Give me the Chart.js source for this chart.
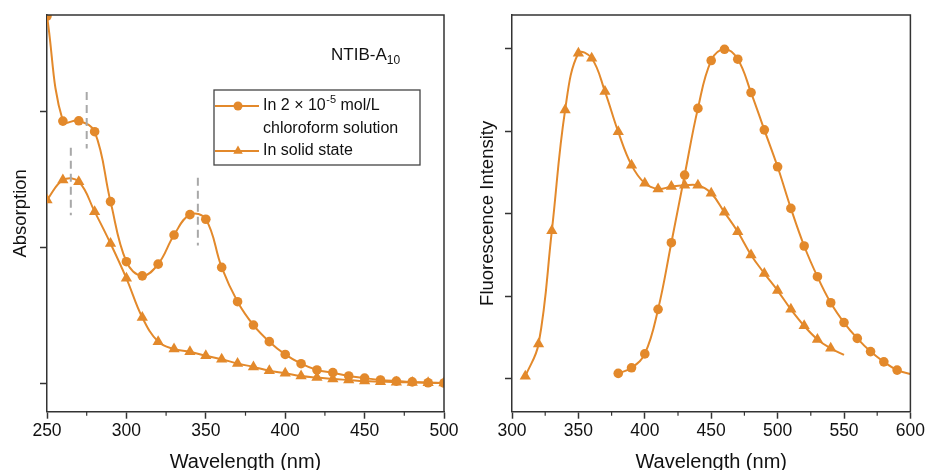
<!DOCTYPE html>
<html>
<head>
<meta charset="utf-8">
<script src="https://cdn.jsdelivr.net/npm/chart.js@4/dist/chart.umd.min.js"></script>
<style>
  html, body { margin: 0; padding: 0; background: #fff; }
  #wrap { position: relative; width: 927px; height: 470px; overflow: hidden; }
  .pane { position: absolute; top: 0; height: 470px; }
  #pl { left: 0; width: 463px; }
  #pr { left: 463px; width: 464px; }
</style>
</head>
<body>
<div id="wrap">
  <div class="pane" id="pl"><canvas id="cl"></canvas></div>
  <div class="pane" id="pr"><canvas id="cr"></canvas></div>
</div>
<script>
// ---------- Data: absorption (left panel) ----------
const absWavelength = [250,260,270,280,290,300,310,320,330,340,350,360,370,380,390,400,410,420,430,440,450,460,470,480,490,500];
const absSolution   = [1.349,0.963,0.964,0.924,0.667,0.446,0.394,0.437,0.544,0.619,0.602,0.425,0.299,0.213,0.152,0.105,0.071,0.048,0.038,0.026,0.018,0.011,0.007,0.004,0.001,0.000];
const absSolid      = [0.673,0.746,0.740,0.630,0.513,0.385,0.241,0.152,0.125,0.115,0.100,0.087,0.072,0.059,0.045,0.036,0.026,0.020,0.015,0.011,0.007,0.005,0.003,0.002,0.001,0.000];
const absXTicks     = [250,300,350,400,450,500];
const absXMinor     = [275,325,375,425,475];
const absYTicks     = [0,0.5,1];
// dashed guide marks: [wavelength, yStart, yEnd]
const absGuides     = [[265,0.617,0.865],[275,0.862,1.070],[345,0.506,0.755]];

// ---------- Data: fluorescence (right panel) ----------
const flSolidWl   = [310,320,330,340,350,360,370,380,390,400,410,420,430,440,450,460,470,480,490,500,510,520,530,540,550];
const flSolid     = [0.008,0.106,0.449,0.815,0.987,0.972,0.871,0.749,0.648,0.593,0.576,0.583,0.587,0.587,0.563,0.505,0.446,0.376,0.320,0.268,0.211,0.161,0.120,0.093,0.073];
const flSolnWl    = [380,390,400,410,420,430,440,450,460,470,480,490,500,510,520,530,540,550,560,570,580,590,600];
const flSoln      = [0.017,0.034,0.076,0.211,0.413,0.618,0.820,0.965,0.999,0.969,0.868,0.755,0.643,0.517,0.403,0.310,0.231,0.171,0.123,0.083,0.052,0.027,0.015];
const flXTicks    = [300,350,400,450,500,550,600];
const flXMinor    = [325,375,425,475,525,575];
const flYTicks    = [0,0.25,0.5,0.75,1];

// ---------- Labels ----------
const absYTitle = 'Absorption';
const flYTitle  = 'Fluorescence Intensity';
const xTitle    = 'Wavelength (nm)';
const compoundName = 'NTIB-A';
const compoundSub  = '10';
const legendLine1a = 'In 2 × 10';
const legendLine1sup = '-5';
const legendLine1b = ' mol/L';
const legendLine2 = 'chloroform solution';
const legendLine3 = 'In solid state';

const ORANGE = '#E3892B';
const AXIS = '#333333';
const FONT = '"Liberation Sans", Arial, sans-serif';

Chart.defaults.font.family = FONT;
Chart.defaults.color = '#111';

function pts(xs, ys) { return xs.map((x, i) => ({ x: x, y: ys[i] })); }

function lineDs(label, xs, ys, style, lastNoMarker) {
  const n = xs.length;
  return {
    label: label,
    data: pts(xs, ys),
    borderColor: ORANGE,
    backgroundColor: ORANGE,
    borderWidth: 2,
    pointStyle: style,
    pointRadius: (ctx) => (lastNoMarker && ctx.dataIndex === n - 1) ? 0 : (style === 'triangle' ? 6.5 : 4.8),
    pointBorderWidth: 0,
    pointHoverRadius: 0,
    tension: 0.4,
    clip: 0,
    fill: false
  };
}

// plugin: frame + minor ticks
const framePlugin = {
  id: 'frame',
  afterDraw(chart, args, opts) {
    const { ctx, chartArea: a, scales } = chart;
    ctx.save();
    ctx.strokeStyle = AXIS;
    ctx.lineWidth = 1.5;
    ctx.beginPath();
    ctx.moveTo(a.left, a.top);
    ctx.lineTo(a.right, a.top);
    ctx.lineTo(a.right, a.bottom);
    ctx.stroke();
    // minor x ticks
    ctx.lineWidth = 1.2;
    (opts.minor || []).forEach(v => {
      const px = scales.x.getPixelForValue(v);
      ctx.beginPath();
      ctx.moveTo(px, a.bottom);
      ctx.lineTo(px, a.bottom + 4);
      ctx.stroke();
    });
    ctx.restore();
  }
};

// plugin: dashed guides, label and legend (left panel)
const annotPlugin = {
  id: 'annot',
  afterDatasetsDraw(chart) {
    const { ctx, scales } = chart;
    ctx.save();
    // dashed guides
    ctx.strokeStyle = '#A8A8A8';
    ctx.lineWidth = 2;
    ctx.setLineDash([8, 5]);
    absGuides.forEach(g => {
      const x = scales.x.getPixelForValue(g[0]);
      ctx.beginPath();
      ctx.moveTo(x, scales.y.getPixelForValue(g[2]));
      ctx.lineTo(x, scales.y.getPixelForValue(g[1]));
      ctx.stroke();
    });
    ctx.setLineDash([]);
    // compound label
    ctx.fillStyle = '#111';
    ctx.textBaseline = 'middle';
    ctx.textAlign = 'left';
    ctx.font = '17px ' + FONT;
    ctx.fillText(compoundName, 331, 55);
    const w = ctx.measureText(compoundName).width;
    ctx.font = '12px ' + FONT;
    ctx.fillText(compoundSub, 331 + w, 61);
    // legend box
    ctx.fillStyle = '#fff';
    ctx.fillRect(214, 90, 206, 75);
    ctx.strokeStyle = '#444';
    ctx.lineWidth = 1.3;
    ctx.strokeRect(214, 90, 206, 75);
    // legend markers
    ctx.strokeStyle = ORANGE;
    ctx.lineWidth = 2;
    [[106, 'circle'], [151, 'triangle']].forEach(([y, st]) => {
      ctx.beginPath();
      ctx.moveTo(215, y);
      ctx.lineTo(259, y);
      ctx.stroke();
      ctx.fillStyle = ORANGE;
      Chart.helpers.drawPoint(ctx, { pointStyle: st, radius: st === 'triangle' ? 5.5 : 4.5, borderWidth: 0 }, 238, y);
    });
    // legend text
    ctx.fillStyle = '#111';
    ctx.font = '16px ' + FONT;
    let x = 263;
    ctx.fillText(legendLine1a, x, 106);
    x += ctx.measureText(legendLine1a).width;
    ctx.font = '11px ' + FONT;
    ctx.fillText(legendLine1sup, x + 0.5, 100);
    x += ctx.measureText(legendLine1sup).width + 0.5;
    ctx.font = '16px ' + FONT;
    ctx.fillText(legendLine1b, x, 106);
    ctx.fillText(legendLine2, 263, 129);
    ctx.fillText(legendLine3, 263, 151);
    ctx.restore();
  }
};

function makeScales(xMin, xMax, xTicks, yMin, yMax, yTicks, yTitle, yWidth, yTitlePad) {
  return {
    x: {
      type: 'linear',
      min: xMin, max: xMax,
      afterBuildTicks: s => { s.ticks = xTicks.map(v => ({ value: v })); },
      afterFit: s => { s.height = 58.3; },
      grid: { display: true, drawOnChartArea: false, drawTicks: true, tickLength: 7, tickWidth: 1.5, tickColor: AXIS },
      border: { display: true, color: AXIS, width: 1.5 },
      ticks: { font: { size: 17.5 }, color: '#111', padding: 2, maxRotation: 0, autoSkip: false },
      title: { display: true, text: xTitle, font: { size: 20 }, color: '#111', padding: { top: 0, bottom: -4 } }
    },
    y: {
      type: 'linear',
      min: yMin, max: yMax,
      afterBuildTicks: s => { s.ticks = yTicks.map(v => ({ value: v })); },
      afterFit: s => { s.width = yWidth; },
      grid: { display: true, drawOnChartArea: false, drawTicks: true, tickLength: 7, tickWidth: 1.5, tickColor: AXIS },
      border: { display: true, color: AXIS, width: 1.5 },
      ticks: { display: false },
      title: { display: true, text: yTitle, font: { size: 18.5 }, color: '#111', padding: { top: yTitlePad, bottom: 0 } }
    }
  };
}

new Chart(document.getElementById('cl'), {
  type: 'line',
  data: {
    datasets: [
      lineDs('In 2 × 10-5 mol/L chloroform solution', absWavelength, absSolution, 'circle', false),
      lineDs('In solid state', absWavelength, absSolid, 'triangle', false)
    ]
  },
  options: {
    responsive: true,
    maintainAspectRatio: false,
    animation: false,
    events: [],
    layout: { padding: { top: 15, right: 19, left: 0, bottom: 0 } },
    plugins: { legend: { display: false }, tooltip: { enabled: false }, frame: { minor: absXMinor } },
    scales: makeScales(250, 500, absXTicks, -0.1055, 1.353, absYTicks, absYTitle, 47, 10)
  },
  plugins: [framePlugin, annotPlugin]
});

new Chart(document.getElementById('cr'), {
  type: 'line',
  data: {
    datasets: [
      lineDs('In 2 × 10-5 mol/L chloroform solution', flSolnWl, flSoln, 'circle', true),
      lineDs('In solid state', flSolidWl, flSolid, 'triangle', true)
    ]
  },
  options: {
    responsive: true,
    maintainAspectRatio: false,
    animation: false,
    events: [],
    layout: { padding: { top: 15, right: 16, left: 0, bottom: 0 } },
    plugins: { legend: { display: false }, tooltip: { enabled: false }, frame: { minor: flXMinor } },
    scales: makeScales(300, 600, flXTicks, -0.0991, 1.103, flYTicks, flYTitle, 49, 14)
  },
  plugins: [framePlugin]
});
</script>
</body>
</html>
